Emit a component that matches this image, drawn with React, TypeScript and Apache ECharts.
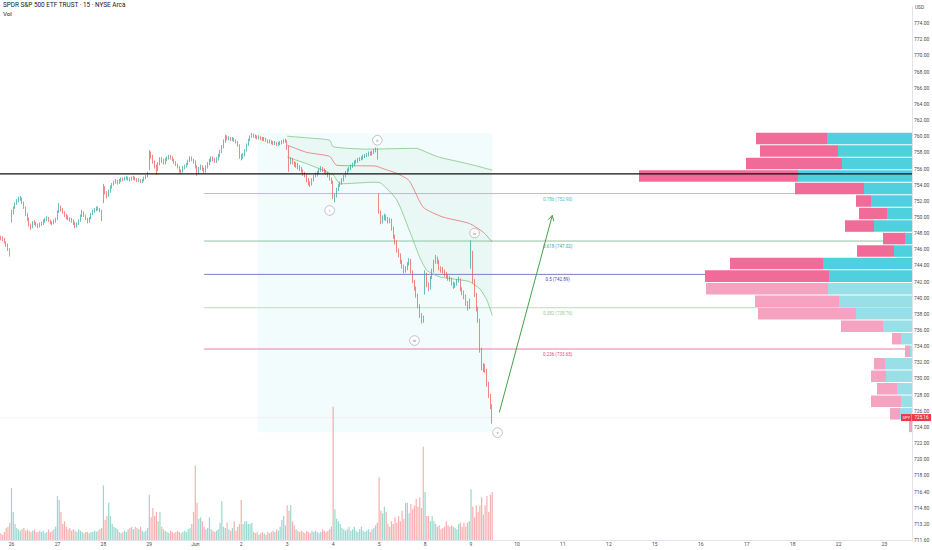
import React, { useEffect, useRef } from "react";
import * as echarts from "echarts";

const TITLE = "SPDR S&P 500 ETF TRUST · 15 · NYSE Arca";
const DAY_LABELS = ["26", "27", "28", "29", "Jun", "2", "3", "4", "5", "8", "9", "10", "11", "12", "15", "16", "17", "18", "22", "23"];
const BARS_PER_DAY = 26;
const PRE_SLOTS = 6;
const TOTAL_SLOTS = 516;
const Y_MIN = 710;
const Y_MAX = 776;
const Y_LABEL_OVERRIDES: Record<number, string> = { 776: "", 716: "716.40", 714: "714.80", 712: "713.20", 710: "711.60" };

// first open of each session: tail of May 22, then May 26 ... Jun 9
const SESSION_OPENS = [747.5, 749.5, 749.8, 751.9, 755.9, 756.9, 757.6, 759.4, 754.3, 752.6, 740.6, 743.9];

// 15-minute bars as [close, high, low]
const MAY22_TAIL = [[747.4, 747.7, 747.1], [747.3, 747.6, 747.0], [746.9, 747.4, 746.7], [746.6, 747.0, 746.3], [746.0, 746.7, 745.8], [745.4, 746.1, 745.1]];
const MAY26 = [[750.5, 750.9, 749.3], [751.1, 751.3, 750.3], [751.6, 751.8, 751.0], [752.0, 752.2, 751.5], [752.2, 752.5, 751.8], [752.3, 752.6, 752.0], [751.8, 752.4, 751.6], [751.2, 751.9, 751.0], [750.3, 751.3, 750.1], [749.7, 750.5, 749.5], [749.0, 749.9, 748.8], [748.7, 749.2, 748.4], [749.3, 749.5, 748.6], [749.2, 749.6, 749.0], [749.0, 749.4, 748.8], [748.9, 749.2, 748.6], [749.0, 749.3, 748.7], [749.1, 749.4, 748.9], [749.5, 749.7, 749.0], [749.6, 749.9, 749.3], [749.8, 750.1, 749.5], [749.6, 750.0, 749.4], [749.3, 749.7, 749.1], [749.2, 749.5, 749.0], [749.5, 749.7, 749.1], [749.7, 749.9, 749.3]];
const MAY27 = [[750.6, 750.8, 749.6], [751.2, 751.7, 750.5], [751.0, 751.4, 750.7], [750.6, 751.1, 750.4], [750.2, 750.7, 750.0], [750.0, 750.4, 749.7], [749.8, 750.2, 749.6], [749.7, 750.0, 749.4], [749.6, 749.9, 749.3], [749.2, 749.7, 749.0], [748.9, 749.4, 748.6], [749.1, 749.3, 748.7], [749.5, 749.7, 749.0], [750.1, 750.3, 749.4], [750.6, 750.9, 750.0], [750.2, 750.7, 750.0], [749.8, 750.3, 749.6], [749.5, 749.9, 749.2], [749.8, 750.0, 749.3], [750.3, 750.5, 749.7], [750.6, 750.9, 750.2], [750.8, 751.1, 750.5], [751.1, 751.3, 750.7], [751.0, 751.3, 750.8], [750.8, 751.1, 750.6], [749.7, 750.9, 749.5]];
const MAY28 = [[753.6, 754.1, 751.7], [753.0, 753.8, 752.8], [752.6, 753.2, 752.3], [753.2, 753.4, 752.5], [753.7, 753.9, 753.0], [754.0, 754.2, 753.5], [754.3, 754.5, 753.9], [754.4, 754.7, 754.1], [754.2, 754.6, 754.0], [754.5, 754.7, 754.1], [754.7, 754.9, 754.3], [754.6, 754.9, 754.4], [754.8, 755.0, 754.5], [754.9, 755.1, 754.6], [754.7, 755.0, 754.5], [754.6, 754.9, 754.4], [754.8, 755.0, 754.5], [754.9, 755.1, 754.6], [754.7, 755.0, 754.5], [754.5, 754.8, 754.3], [754.6, 754.8, 754.3], [754.4, 754.7, 754.2], [754.5, 754.7, 754.2], [754.8, 755.0, 754.4], [755.0, 755.2, 754.7], [755.3, 755.6, 754.9]];
const MAY29 = [[757.9, 758.3, 755.8], [757.5, 758.1, 757.2], [756.9, 757.7, 756.6], [756.3, 757.0, 756.0], [755.9, 756.5, 755.2], [756.6, 756.8, 755.7], [757.2, 757.4, 756.4], [757.0, 757.4, 756.7], [756.7, 757.2, 756.5], [757.1, 757.3, 756.5], [757.3, 757.5, 756.9], [757.5, 757.7, 757.1], [757.4, 757.7, 757.1], [757.1, 757.5, 756.9], [756.8, 757.2, 756.6], [756.5, 756.9, 756.3], [756.2, 756.6, 756.0], [755.7, 756.3, 755.5], [755.6, 755.9, 755.3], [756.1, 756.3, 755.5], [756.3, 756.5, 755.9], [756.5, 756.7, 756.1], [756.9, 757.1, 756.4], [757.3, 757.5, 756.8], [757.1, 757.5, 756.9], [756.8, 757.2, 756.6]];
const JUN01 = [[756.2, 757.0, 756.0], [755.5, 756.4, 755.1], [756.0, 756.2, 755.3], [756.3, 756.5, 755.8], [755.9, 756.4, 755.7], [755.7, 756.1, 755.4], [756.2, 756.4, 755.5], [756.6, 756.8, 756.0], [757.0, 757.2, 756.4], [757.3, 757.5, 756.8], [757.1, 757.5, 756.9], [756.9, 757.3, 756.7], [757.2, 757.4, 756.7], [757.6, 757.8, 757.0], [758.1, 758.3, 757.4], [758.7, 758.9, 757.9], [759.4, 759.6, 758.5], [759.9, 760.2, 759.2], [759.7, 760.1, 759.5], [759.8, 760.0, 759.5], [759.6, 759.9, 759.4], [759.7, 759.9, 759.4], [759.5, 759.8, 759.3], [759.3, 759.6, 759.1], [758.9, 759.4, 758.7], [757.6, 759.0, 757.2]];
const JUN02 = [[757.4, 757.8, 757.0], [757.6, 757.9, 757.2], [758.2, 758.4, 757.5], [758.9, 759.1, 758.1], [759.5, 759.7, 758.8], [759.9, 760.1, 759.4], [760.1, 760.4, 759.8], [760.0, 760.3, 759.8], [759.9, 760.2, 759.7], [759.8, 760.1, 759.6], [759.9, 760.1, 759.6], [759.7, 760.0, 759.5], [759.6, 759.9, 759.4], [759.7, 759.9, 759.4], [759.5, 759.8, 759.3], [759.3, 759.6, 759.1], [759.4, 759.6, 759.1], [759.2, 759.5, 759.0], [759.1, 759.4, 758.9], [759.2, 759.4, 758.9], [759.0, 759.3, 758.8], [759.1, 759.3, 758.8], [759.2, 759.4, 758.9], [759.3, 759.5, 759.0], [759.4, 759.6, 759.1], [759.5, 759.7, 759.2]];
const JUN03 = [[758.6, 759.5, 758.3], [756.9, 758.8, 755.6], [757.1, 757.4, 756.5], [756.7, 757.3, 756.5], [756.4, 756.9, 756.2], [756.6, 756.8, 756.1], [756.2, 756.7, 755.9], [756.0, 756.4, 755.7], [755.8, 756.2, 755.5], [755.4, 755.9, 755.1], [755.2, 755.6, 754.9], [754.6, 755.3, 754.3], [754.2, 754.8, 753.9], [754.0, 754.4, 753.7], [754.6, 754.8, 753.9], [755.0, 755.2, 754.4], [755.2, 755.5, 754.9], [755.5, 755.7, 755.0], [755.8, 756.0, 755.3], [756.0, 756.3, 755.6], [755.8, 756.2, 755.6], [755.6, 756.0, 755.4], [755.4, 755.8, 755.2], [755.1, 755.6, 754.9], [754.7, 755.3, 754.5], [754.4, 754.9, 754.1]];
const JUN04 = [[752.4, 754.5, 752.2], [752.6, 752.9, 751.8], [753.4, 753.6, 752.4], [753.9, 754.1, 753.2], [754.2, 754.4, 753.7], [754.6, 754.8, 754.0], [755.0, 755.2, 754.4], [755.5, 755.7, 754.9], [755.8, 756.0, 755.3], [756.0, 756.2, 755.6], [756.3, 756.5, 755.8], [756.5, 756.7, 756.1], [756.8, 757.0, 756.3], [756.9, 757.1, 756.6], [757.1, 757.3, 756.7], [757.2, 757.4, 756.9], [757.3, 757.5, 757.0], [757.5, 757.7, 757.1], [757.6, 757.8, 757.3], [757.7, 757.9, 757.4], [757.9, 758.1, 757.5], [757.8, 758.1, 757.6], [758.0, 758.2, 757.6], [758.2, 758.4, 757.8], [758.4, 758.6, 758.0], [757.3, 758.5, 757.1]];
const JUN05 = [[750.6, 752.9, 750.4], [749.4, 750.8, 749.1], [749.9, 750.2, 749.2], [750.1, 750.4, 749.6], [749.8, 750.3, 749.5], [749.5, 750.0, 749.2], [749.7, 749.9, 749.2], [748.6, 749.8, 748.3], [747.6, 748.8, 747.3], [746.9, 747.8, 746.6], [745.9, 747.1, 745.6], [745.3, 746.1, 745.0], [744.5, 745.5, 744.2], [743.9, 744.7, 743.6], [743.3, 744.1, 743.0], [743.6, 743.9, 743.1], [744.2, 744.4, 743.4], [744.6, 744.9, 744.0], [743.2, 744.8, 743.0], [742.0, 743.4, 741.8], [741.2, 742.2, 740.9], [740.3, 741.4, 740.0], [739.0, 740.5, 738.7], [737.9, 739.2, 737.5], [737.4, 738.1, 736.8], [737.2, 737.8, 736.9]];
const JUN08 = [[742.9, 743.4, 740.4], [741.6, 743.1, 741.3], [741.2, 741.9, 740.8], [742.5, 742.7, 741.0], [743.3, 743.6, 742.3], [744.4, 744.7, 743.1], [744.9, 745.3, 744.2], [744.5, 745.1, 744.2], [743.7, 744.7, 743.4], [743.5, 743.9, 743.1], [743.3, 743.8, 743.0], [742.9, 743.5, 742.6], [742.7, 743.2, 742.4], [742.5, 742.9, 742.1], [742.3, 742.7, 742.0], [741.8, 742.5, 741.5], [741.4, 742.0, 741.1], [741.7, 741.9, 741.2], [742.1, 742.3, 741.5], [742.3, 742.6, 741.9], [741.1, 742.4, 740.8], [740.7, 741.3, 740.3], [740.2, 740.9, 739.8], [739.4, 740.4, 739.0], [738.9, 739.6, 738.4], [739.6, 739.9, 738.6]];
const JUN09 = [[745.6, 747.1, 743.6], [742.0, 745.8, 741.8], [740.4, 742.3, 740.1], [738.6, 740.6, 738.3], [737.2, 738.9, 736.9], [733.5, 737.4, 733.2], [731.4, 733.8, 731.0], [731.6, 731.9, 730.8], [731.0, 731.8, 730.7], [729.4, 731.2, 729.0], [727.9, 729.6, 727.6], [726.6, 728.1, 726.2], [725.16, 726.8, 724.4]];
const SESSIONS = [MAY22_TAIL, MAY26, MAY27, MAY28, MAY29, JUN01, JUN02, JUN03, JUN04, JUN05, JUN08, JUN09];

// volume per bar, millions of shares
const VOL_MAY22_TAIL = [0.5, 0.4, 0.6, 0.9, 1.0, 1.3];
const VOL_MAY26 = [3.9, 2.1, 1.2, 0.9, 0.8, 0.7, 0.8, 0.9, 0.7, 0.8, 0.7, 0.6, 0.7, 0.8, 0.6, 0.6, 0.7, 0.6, 0.7, 0.5, 0.6, 0.8, 0.6, 0.7, 0.8, 1.0];
const VOL_MAY27 = [3.3, 3.0, 2.1, 1.2, 1.4, 1.0, 0.8, 0.9, 0.7, 0.8, 0.7, 0.6, 0.8, 0.7, 0.6, 0.5, 0.6, 0.6, 0.5, 0.6, 0.6, 0.7, 0.6, 0.7, 0.8, 0.9];
const VOL_MAY28 = [4.1, 1.5, 1.8, 2.8, 1.8, 1.2, 1.0, 0.9, 0.8, 0.6, 0.5, 0.6, 0.7, 0.6, 0.8, 0.9, 1.0, 0.8, 1.0, 0.9, 0.8, 1.0, 0.7, 0.6, 0.7, 0.9];
const VOL_MAY29 = [3.4, 1.7, 2.4, 1.8, 2.1, 1.4, 2.1, 1.0, 0.8, 0.7, 0.6, 0.5, 0.7, 0.6, 0.5, 0.6, 0.7, 0.6, 0.5, 0.6, 0.7, 0.6, 0.8, 0.9, 1.2, 2.1];
const VOL_JUN01 = [5.6, 2.8, 1.6, 1.7, 1.4, 1.0, 0.8, 0.9, 1.7, 0.8, 0.7, 0.6, 0.7, 0.8, 1.3, 2.9, 1.0, 0.9, 1.3, 0.8, 0.7, 0.9, 1.4, 0.7, 1.0, 1.2];
const VOL_JUN02 = [3.0, 1.2, 1.4, 1.4, 1.2, 1.2, 1.3, 0.6, 0.5, 0.6, 0.4, 0.5, 0.6, 0.5, 0.4, 0.6, 0.5, 0.6, 0.7, 0.6, 0.8, 0.7, 1.0, 1.5, 1.8, 1.1];
const VOL_JUN03 = [2.6, 2.2, 2.6, 1.4, 1.1, 0.8, 0.7, 0.6, 0.7, 0.6, 0.5, 0.7, 0.6, 0.5, 0.7, 0.6, 0.7, 0.6, 0.5, 0.6, 0.8, 0.7, 0.6, 0.7, 0.8, 1.0];
const VOL_JUN04 = [10.0, 2.3, 1.6, 1.4, 1.2, 0.9, 0.8, 0.7, 0.8, 1.0, 0.7, 0.8, 1.0, 0.7, 0.6, 0.8, 1.0, 0.7, 0.6, 0.7, 0.8, 0.6, 0.8, 0.9, 1.1, 1.3];
const VOL_JUN05 = [4.7, 2.2, 2.0, 2.5, 2.1, 1.2, 1.0, 1.4, 1.2, 1.7, 1.3, 1.8, 1.4, 2.2, 1.6, 2.8, 2.8, 2.0, 2.7, 2.3, 2.6, 3.1, 2.5, 3.2, 2.4, 7.0];
const VOL_JUN08 = [3.6, 1.8, 1.8, 1.4, 1.8, 1.4, 1.2, 1.0, 1.1, 0.8, 0.9, 1.0, 1.4, 1.1, 1.0, 1.1, 1.0, 0.9, 0.8, 1.2, 1.3, 1.0, 1.3, 1.0, 1.3, 1.4];
const VOL_JUN09 = [3.8, 2.5, 1.7, 2.6, 2.1, 2.6, 3.2, 1.9, 2.6, 3.3, 2.1, 3.4, 3.6];
const VOLUMES = [VOL_MAY22_TAIL, VOL_MAY26, VOL_MAY27, VOL_MAY28, VOL_MAY29, VOL_JUN01, VOL_JUN02, VOL_JUN03, VOL_JUN04, VOL_JUN05, VOL_JUN08, VOL_JUN09];

// anchored band: [slot, price]
const BAND_UPPER = [[162, 760.0], [173, 759.8], [186, 759.5], [188, 758.7], [207, 758.4], [235, 758.5], [239, 758.2], [241, 758.0], [248, 757.4], [264, 756.6], [278, 755.8]];
const BAND_MIDDLE = [[162, 758.9], [173, 758.0], [186, 757.5], [190, 756.4], [212, 756.3], [216, 756.0], [224, 755.4], [231, 754.5], [239, 751.2], [250, 750.0], [265, 749.2], [273, 748.1], [278, 746.9]];
const BAND_LOWER = [[162, 757.4], [173, 756.6], [188, 755.2], [192, 754.1], [211, 754.3], [215, 754.2], [224, 752.1], [231, 748.4], [237, 745.0], [241, 743.4], [248, 742.6], [260, 742.2], [265, 742.0], [271, 741.1], [275, 739.7], [278, 737.8]];

// drawing objects
const RECT_SLOTS = [145, 278];
const RECT_PRICES = [760.4, 723.3];
const FIB_START_SLOT = 115;
const FIB_LABEL_SLOT = 315;
const FIB_RATIOS = ["0.786", "0.618", "0.5", "0.382", "0.236"];
const FIB_PRICES = [752.90, 747.02, 742.89, 738.76, 733.65];
const FIB_LINE_COLORS = ["#86d4df", "#8fc6a4", "#7b7fc4", "#b9ddb9", "#ef7ca3"];
const FIB_TEXT_COLORS = ["#3fc1d3", "#45a98a", "#3949ab", "#98c998", "#e84a83"];
const SUPPORT_PRICE = 755.33;
const ARROW_FROM = [282, 725.8];
const ARROW_TO = [312, 750.2];
const WAVE_NAMES = ["i", "ii", "iii", "iv", "v"];
const WAVE_POINTS = [[186, 750.8], [213, 759.5], [234, 734.7], [268, 748.0], [281, 723.3]];
const LAST_PRICE = 725.16;

// visible range volume profile, rows from top, millions of shares
const VP_TOP = 760.5;
const VP_STEP = 1.55;
const VP_UP = [8.5, 7.4, 7.0, 11.4, 4.8, 4.1, 2.5, 3.8, 0.7, 1.8, 8.9, 8.3, 8.4, 7.3, 5.6, 2.9, 1.1, 0.2, 2.7, 2.6, 1.5, 1.1, 1.2, 0.0];
const VP_DOWN = [7.1, 7.8, 9.6, 15.9, 6.9, 1.5, 2.8, 2.9, 2.2, 3.7, 9.3, 12.4, 12.2, 8.4, 9.8, 4.2, 0.9, 0.5, 1.1, 1.5, 2.0, 3.0, 1.0, 0.3];
const VP_VALUE_AREA_ROWS = 12;

const FONT = "Roboto, 'Noto Sans', sans-serif";
const UP = "#26a69a";
const DOWN = "#ef5350";

function buildData() {
  const candles: number[][] = [];
  const vols: any[] = [];
  let prev = 0;
  SESSIONS.forEach((bars, s) => {
    bars.forEach((b, k) => {
      const o = k === 0 ? SESSION_OPENS[s] : prev;
      const [c, h, l] = b;
      candles.push([o, c, Math.min(l, o, c), Math.max(h, o, c)]);
      const v = VOLUMES[s][k];
      vols.push({ value: v, itemStyle: { color: c >= o ? "rgba(38,166,154,0.45)" : "rgba(239,83,80,0.45)" } });
      prev = c;
    });
  });
  return { candles, vols };
}

function dayLabel(i: number): string {
  const j = i - PRE_SLOTS;
  if (j >= 0 && j % BARS_PER_DAY === 0) return DAY_LABELS[j / BARS_PER_DAY] ?? "";
  return "";
}

function buildOption() {
  const { candles, vols } = buildData();
  const categories = Array.from({ length: TOTAL_SLOTS }, (_, i) => String(i));
  const axisText = { color: "#4a4a4a", fontSize: 5, fontFamily: FONT };

  return {
    animation: false,
    backgroundColor: "#ffffff",
    textStyle: { fontFamily: FONT },
    grid: { left: 0, right: 20, top: 7, bottom: 10, outerBoundsMode: "none" },
    xAxis: [
      {
        type: "category",
        data: categories,
        boundaryGap: true,
        axisLine: { show: true, lineStyle: { color: "#e0e3eb", width: 1 } },
        axisTick: { show: false },
        splitLine: { show: false },
        axisLabel: {
          ...axisText,
          margin: 1,
          interval: (index: number) => dayLabel(index) !== "",
          formatter: (val: string) => dayLabel(Number(val)),
        },
      },
      { type: "value", show: false, inverse: true, min: 0, max: 91.2 },
    ],
    yAxis: [
      {
        type: "value",
        position: "right",
        min: Y_MIN,
        max: Y_MAX,
        interval: 2,
        axisLine: { show: true, lineStyle: { color: "#e0e3eb" } },
        axisTick: { show: false },
        splitLine: { show: false },
        axisLabel: {
          ...axisText,
          margin: 2,
          showMinLabel: true,
          showMaxLabel: true,
          formatter: (v: number) => (Y_LABEL_OVERRIDES[v] !== undefined ? Y_LABEL_OVERRIDES[v] : v.toFixed(2)),
        },
      },
      { type: "value", show: false, min: 0, max: 40 },
    ],
    graphic: [
      { type: "text", left: 3, top: 2, style: { text: TITLE, fill: "#131722", fontSize: 6.4, fontFamily: FONT } },
      { type: "text", left: 3, top: 10.5, style: { text: "Vol", fill: "#131722", fontSize: 6.2, fontFamily: FONT } },
      { type: "text", left: 915, top: 5, style: { text: "USD", fill: "#4a4a4a", fontSize: 4.8, fontFamily: FONT } },
    ],
    series: [
      {
        type: "custom",
        name: "zone",
        silent: true,
        z: 1,
        data: [[200, 740]],
        renderItem: (_p: any, api: any) => {
          const a = api.coord([RECT_SLOTS[0], RECT_PRICES[0]]);
          const b = api.coord([RECT_SLOTS[1], RECT_PRICES[1]]);
          return { type: "rect", shape: { x: a[0], y: a[1], width: b[0] - a[0], height: b[1] - a[1] }, style: { fill: "rgba(0,188,212,0.05)" } };
        },
      },
      {
        type: "custom",
        name: "bandFill",
        silent: true,
        z: 1,
        data: [[200, 750]],
        renderItem: (_p: any, api: any) => {
          const pts = [...BAND_UPPER, ...BAND_LOWER.slice().reverse()].map((q) => api.coord(q));
          return { type: "polygon", shape: { points: pts }, style: { fill: "rgba(102,187,106,0.06)" } };
        },
      },
      { type: "line", name: "upper", data: BAND_UPPER, showSymbol: false, smooth: 0.2, z: 2, silent: true, lineStyle: { color: "#81c784", width: 0.8 } },
      { type: "line", name: "middle", data: BAND_MIDDLE, showSymbol: false, smooth: 0.2, z: 2, silent: true, lineStyle: { color: "#e57373", width: 0.8 } },
      { type: "line", name: "lower", data: BAND_LOWER, showSymbol: false, smooth: 0.2, z: 2, silent: true, lineStyle: { color: "#81c784", width: 0.8 } },
      {
        type: "custom",
        name: "fib",
        silent: true,
        z: 2,
        data: FIB_PRICES.map((p, i) => [FIB_START_SLOT, p, i]),
        renderItem: (params: any, api: any) => {
          const i = api.value(2);
          const p = FIB_PRICES[i];
          const a = api.coord([FIB_START_SLOT, p]);
          const t = api.coord([FIB_LABEL_SLOT, p]);
          const right = params.coordSys.x + params.coordSys.width;
          return {
            type: "group",
            children: [
              { type: "line", shape: { x1: a[0], y1: a[1], x2: right, y2: a[1] }, style: { stroke: FIB_LINE_COLORS[i], lineWidth: 1 } },
              { type: "text", style: { text: `${FIB_RATIOS[i]} (${p.toFixed(2)})`, x: t[0], y: a[1] + 5.5, fill: FIB_TEXT_COLORS[i], fontSize: 4.5, fontFamily: FONT, align: "center", verticalAlign: "middle" } },
            ],
          };
        },
      },
      {
        type: "custom",
        name: "lastLine",
        silent: true,
        z: 2,
        data: [[0, LAST_PRICE]],
        renderItem: (params: any, api: any) => {
          const y = api.coord([0, LAST_PRICE])[1];
          return { type: "line", shape: { x1: params.coordSys.x, y1: y, x2: params.coordSys.x + params.coordSys.width, y2: y }, style: { stroke: "rgba(242,54,69,0.16)", lineWidth: 0.8, lineDash: [1, 1] } };
        },
      },
      {
        type: "bar",
        name: "Vol",
        xAxisIndex: 0,
        yAxisIndex: 1,
        data: vols,
        barWidth: "70%",
        z: 3,
        silent: true,
      },
      {
        type: "candlestick",
        name: "SPY",
        xAxisIndex: 0,
        yAxisIndex: 0,
        data: candles,
        barWidth: "72%",
        z: 3,
        silent: true,
        itemStyle: { color: UP, color0: DOWN, borderColor: UP, borderColor0: DOWN, borderWidth: 0.7 },
      },
      {
        type: "custom",
        name: "VRVP",
        xAxisIndex: 1,
        yAxisIndex: 0,
        silent: true,
        z: 4,
        data: VP_UP.map((u, i) => [u, VP_TOP - (i + 0.5) * VP_STEP, VP_DOWN[i], i]),
        renderItem: (_p: any, api: any) => {
          const i = api.value(3);
          const up = api.value(0);
          const down = api.value(2);
          const top = VP_TOP - i * VP_STEP;
          const bottom = top - VP_STEP;
          const a = api.coord([0, top]);
          const b = api.coord([up, bottom]);
          const c = api.coord([up + down, bottom]);
          const dark = i < VP_VALUE_AREA_ROWS;
          const y = a[1] + 0.5;
          const h = b[1] - a[1] - 1;
          return {
            type: "group",
            children: [
              { type: "rect", shape: { x: b[0], y, width: a[0] - b[0], height: h }, style: { fill: dark ? "#4fd0df" : "#98dfe7" } },
              { type: "rect", shape: { x: c[0], y, width: b[0] - c[0], height: h }, style: { fill: dark ? "#f06b98" : "#f5a3c0" } },
            ],
          };
        },
      },
      {
        type: "custom",
        name: "support",
        silent: true,
        z: 5,
        data: [[0, SUPPORT_PRICE]],
        renderItem: (params: any, api: any) => {
          const y = api.coord([0, SUPPORT_PRICE])[1];
          return { type: "line", shape: { x1: params.coordSys.x, y1: y, x2: params.coordSys.x + params.coordSys.width, y2: y }, style: { stroke: "#111111", lineWidth: 1.2 } };
        },
      },
      {
        type: "custom",
        name: "arrow",
        silent: true,
        z: 5,
        data: [ARROW_FROM],
        renderItem: (_p: any, api: any) => {
          const p0 = api.coord(ARROW_FROM);
          const p1 = api.coord(ARROW_TO);
          const dx = p1[0] - p0[0];
          const dy = p1[1] - p0[1];
          const len = Math.hypot(dx, dy);
          const ux = dx / len;
          const uy = dy / len;
          const hl = 6;
          const ang = 0.5;
          const rot = (s: number) => [p1[0] - hl * (ux * Math.cos(s) - uy * Math.sin(s)), p1[1] - hl * (ux * Math.sin(s) + uy * Math.cos(s))];
          const l = rot(ang);
          const r = rot(-ang);
          const st = { stroke: "#43a047", lineWidth: 1 };
          return {
            type: "group",
            children: [
              { type: "line", shape: { x1: p0[0], y1: p0[1], x2: p1[0], y2: p1[1] }, style: st },
              { type: "polyline", shape: { points: [l, p1, r] }, style: { ...st, fill: "none" } },
            ],
          };
        },
      },
      {
        type: "custom",
        name: "waves",
        silent: true,
        z: 6,
        data: WAVE_POINTS.map((w, i) => [w[0], w[1], i]),
        renderItem: (_p: any, api: any) => {
          const i = api.value(2);
          const p = api.coord([WAVE_POINTS[i][0], WAVE_POINTS[i][1]]);
          return {
            type: "group",
            children: [
              { type: "circle", shape: { cx: p[0], cy: p[1], r: 4.8 }, style: { fill: "#ffffff", stroke: "#9a9a9a", lineWidth: 0.6 } },
              { type: "text", style: { text: WAVE_NAMES[i], x: p[0], y: p[1], fill: "#7a7a7a", fontSize: 4.4, fontFamily: FONT, align: "center", verticalAlign: "middle" } },
            ],
          };
        },
      },
      {
        type: "custom",
        name: "lastLabel",
        silent: true,
        z: 7,
        data: [[0, LAST_PRICE]],
        renderItem: (params: any, api: any) => {
          const y = api.coord([0, LAST_PRICE])[1];
          const x = params.coordSys.x + params.coordSys.width;
          return {
            type: "group",
            children: [
              { type: "rect", shape: { x: x - 11, y: y - 3.5, width: 10.5, height: 7 }, style: { fill: "#f23645" } },
              { type: "text", style: { text: "SPY", x: x - 5.75, y, fill: "#ffffff", fontSize: 4.2, fontFamily: FONT, align: "center", verticalAlign: "middle" } },
              { type: "rect", shape: { x: x, y: y - 3.5, width: 19, height: 7 }, style: { fill: "#f23645" } },
              { type: "text", style: { text: LAST_PRICE.toFixed(2), x: x + 9.5, y, fill: "#ffffff", fontSize: 4.5, fontFamily: FONT, align: "center", verticalAlign: "middle" } },
            ],
          };
        },
      },
    ],
  };
}

export default function App() {
  const ref = useRef<HTMLDivElement>(null);
  useEffect(() => {
    if (!ref.current) return;
    const chart = echarts.init(ref.current, null, { renderer: "svg" });
    chart.setOption(buildOption() as any);
    return () => chart.dispose();
  }, []);
  return <div ref={ref} style={{ position: "fixed", left: 0, top: 0, width: 932, height: 550, background: "#ffffff" }} />;
}
